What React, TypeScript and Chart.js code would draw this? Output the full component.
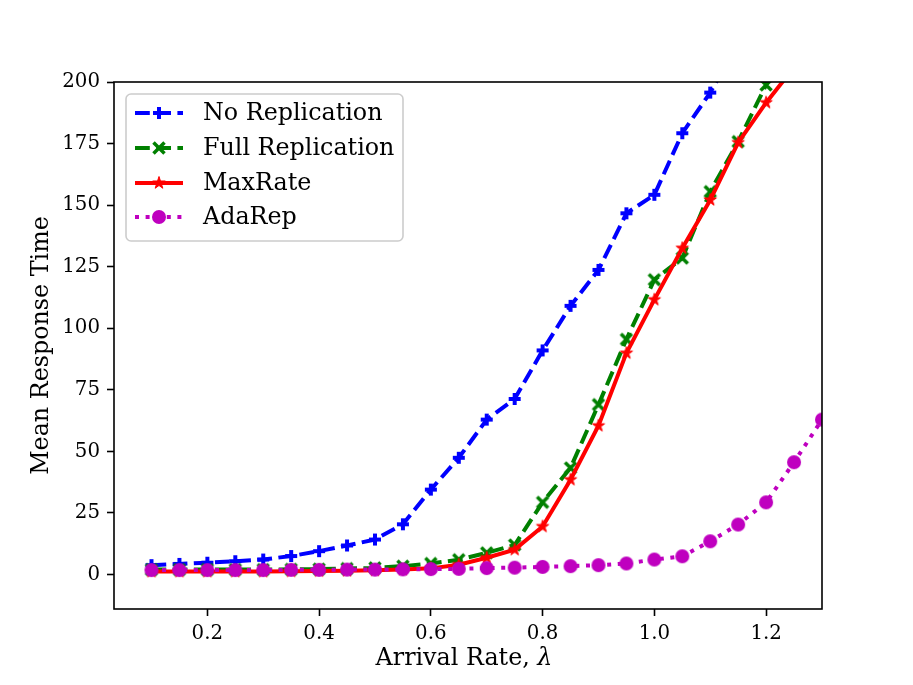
import { useEffect, useRef } from 'react';
import { Chart, registerables } from 'chart.js';

Chart.register(...registerables);

const arrivalRates = [
  0.1, 0.15, 0.2, 0.25, 0.3, 0.35, 0.4, 0.45, 0.5, 0.55, 0.6, 0.65, 0.7,
  0.75, 0.8, 0.85, 0.9, 0.95, 1.0, 1.05, 1.1, 1.15, 1.2, 1.25, 1.3,
];
const noReplication = [
  3.8, 4.3, 4.8, 5.4, 6.1, 7.5, 9.5, 11.8, 14.2, 20.4, 34.5, 47.4, 62.9,
  71.3, 91, 109.1, 123.7, 146.7, 154.2, 179.2, 195.7, 216, 236, 256, 278,
];
const fullReplication = [
  2, 2, 2, 2, 2, 2.1, 2.2, 2.4, 2.7, 3.4, 4.5, 6, 8.8,
  12, 29.3, 43.3, 69, 95.5, 119.7, 128.5, 155.5, 175.8, 198.8, 222, 245,
];
const maxRate = [
  1.2, 1.2, 1.2, 1.2, 1.2, 1.3, 1.4, 1.5, 1.7, 2.0, 2.5, 4, 6.8,
  10.1, 19.5, 38.5, 60.4, 89.9, 111.6, 132.5, 152.1, 175.4, 191.6, 206, 222,
];
const adaRep = [
  1.8, 1.8, 1.8, 1.8, 1.8, 1.9, 1.9, 2.0, 2.0, 2.1, 2.2, 2.3, 2.6,
  2.8, 3.1, 3.4, 3.8, 4.5, 6.1, 7.4, 13.5, 20.3, 29.3, 45.6, 62.9,
];
const seriesNames = ['No Replication', 'Full Replication', 'MaxRate', 'AdaRep'];
const xTicks = [0.2, 0.4, 0.6, 0.8, 1.0, 1.2];
const yTicks = [0, 25, 50, 75, 100, 125, 150, 175, 200];
const xTitle = 'Arrival Rate, ';
const xTitleSymbol = 'λ';

const SERIF = "'DejaVu Serif', serif";

function makeMarker(kind: string, color: string): HTMLCanvasElement {
  const size = 18;
  const c = document.createElement('canvas');
  c.width = size;
  c.height = size;
  const g = c.getContext('2d')!;
  const m = size / 2;
  g.fillStyle = color;
  g.strokeStyle = color;
  if (kind === 'plus') {
    g.fillRect(m - 6, m - 2, 12, 4);
    g.fillRect(m - 2, m - 6, 4, 12);
  } else if (kind === 'x') {
    g.lineWidth = 3.5;
    g.beginPath();
    g.moveTo(m - 5.5, m - 5.5);
    g.lineTo(m + 5.5, m + 5.5);
    g.moveTo(m + 5.5, m - 5.5);
    g.lineTo(m - 5.5, m + 5.5);
    g.stroke();
  } else if (kind === 'star') {
    const R = 6.5;
    const r = R * 0.382;
    g.beginPath();
    for (let i = 0; i < 10; i++) {
      const ang = -Math.PI / 2 + (i * Math.PI) / 5;
      const rad = i % 2 ? r : R;
      g.lineTo(m + rad * Math.cos(ang), m + rad * Math.sin(ang));
    }
    g.closePath();
    g.fill();
    g.lineWidth = 1;
    g.stroke();
  } else {
    g.beginPath();
    g.arc(m, m, 7, 0, Math.PI * 2);
    g.fill();
  }
  return c;
}

export default function App() {
  const canvasRef = useRef<HTMLCanvasElement | null>(null);
  const chartRef = useRef<Chart<'line'> | null>(null);

  useEffect(() => {
    document.body.style.margin = '0';
    if (!canvasRef.current) return;
    const ctx = canvasRef.current.getContext('2d');
    if (!ctx) return;

    const colors = ['#0000ff', '#008000', '#ff0000', '#bf00bf'];
    const dashes = [[14.8, 6.4], [14.8, 6.4], [], [4, 6.6]];
    const markers = [
      makeMarker('plus', colors[0]),
      makeMarker('x', colors[1]),
      makeMarker('star', colors[2]),
      makeMarker('circle', colors[3]),
    ];
    const values = [noReplication, fullReplication, maxRate, adaRep];

    const frameAndLegend = {
      id: 'frameAndLegend',
      afterDraw(chart: Chart) {
        const c = chart.ctx;
        const a = chart.chartArea;
        c.save();
        c.strokeStyle = '#000';
        c.lineWidth = 1.6;
        c.strokeRect(a.left, a.top, a.right - a.left, a.bottom - a.top);

        // x axis title, with an italic lambda like mathtext
        c.fillStyle = '#000';
        c.textBaseline = 'middle';
        c.textAlign = 'left';
        c.font = `23.8px ${SERIF}`;
        const w1 = c.measureText(xTitle).width;
        c.font = `italic 23.8px ${SERIF}`;
        const w2 = c.measureText(xTitleSymbol).width;
        const x0 = (a.left + a.right) / 2 - 4 - (w1 + w2) / 2;
        c.font = `23.8px ${SERIF}`;
        c.fillText(xTitle, x0, 659);
        c.font = `italic 23.8px ${SERIF}`;
        c.fillText(xTitleSymbol, x0 + w1, 659);

        // legend box
        c.beginPath();
        c.roundRect(126, 94, 277, 147, 5);
        c.fillStyle = 'rgba(255,255,255,0.8)';
        c.fill();
        c.strokeStyle = '#cccccc';
        c.lineWidth = 1.6;
        c.stroke();

        const rows = [113, 148, 183, 217];
        c.font = `23.8px ${SERIF}`;
        seriesNames.forEach((name, i) => {
          const y = rows[i];
          c.beginPath();
          c.setLineDash(dashes[i]);
          c.lineDashOffset = 0;
          c.lineCap = 'butt';
          c.strokeStyle = colors[i];
          c.lineWidth = 4;
          c.moveTo(135, y);
          c.lineTo(183, y);
          c.stroke();
          c.setLineDash([]);
          const mk = markers[i];
          c.drawImage(mk, 159 - mk.width / 2, y - mk.height / 2);
          c.fillStyle = '#000';
          c.fillText(name, 203, y + 1);
        });
        c.restore();
      },
    };

    chartRef.current = new Chart(ctx, {
      type: 'line',
      data: {
        datasets: seriesNames.map((name, i) => ({
          label: name,
          data: arrivalRates.map((x, j) => ({ x, y: values[i][j] })),
          borderColor: colors[i],
          backgroundColor: colors[i],
          borderWidth: 4,
          borderDash: dashes[i],
          borderCapStyle: 'butt' as const,
          pointStyle: markers[i],
          pointRadius: 7,
          pointHoverRadius: 7,
          tension: 0,
          fill: false,
          clip: 0,
          order: 3 - i,
        })),
      },
      options: {
        animation: false,
        responsive: false,
        events: [],
        layout: { padding: { left: 0, right: 91, top: 82, bottom: 0 } },
        plugins: {
          legend: { display: false },
          tooltip: { enabled: false },
        },
        scales: {
          x: {
            type: 'linear',
            min: 0.033,
            max: 1.3,
            afterBuildTicks: (s: any) => {
              s.ticks = xTicks.map((v) => ({ value: v }));
            },
            afterFit: (s: any) => {
              s.height = 76;
            },
            border: { display: false },
            grid: {
              drawOnChartArea: false,
              tickLength: 7,
              tickWidth: 1.6,
              tickColor: '#000',
            },
            ticks: {
              autoSkip: false,
              maxRotation: 0,
              color: '#000',
              padding: 6,
              font: { family: SERIF, size: 19.8 },
              callback: (v: any) => Number(v).toFixed(1),
            },
          },
          y: {
            type: 'linear',
            min: -14,
            max: 200,
            afterBuildTicks: (s: any) => {
              s.ticks = yTicks.map((v) => ({ value: v }));
            },
            afterFit: (s: any) => {
              s.width = 114;
            },
            border: { display: false },
            grid: {
              drawOnChartArea: false,
              tickLength: 7,
              tickWidth: 1.6,
              tickColor: '#000',
            },
            ticks: {
              autoSkip: false,
              color: '#000',
              padding: 7,
              font: { family: SERIF, size: 19.8 },
              callback: (v: any) => String(v),
            },
            title: {
              display: true,
              text: 'Mean Response Time',
              color: '#000',
              font: { family: SERIF, size: 23.8 },
              padding: { top: 28, bottom: 0 },
            },
          },
        },
      },
      plugins: [frameAndLegend],
    });

    return () => {
      if (chartRef.current) {
        chartRef.current.destroy();
        chartRef.current = null;
      }
    };
  }, []);

  return (
    <div style={{ width: 913, height: 685 }}>
      <canvas ref={canvasRef} width={913} height={685} style={{ display: 'block' }} />
    </div>
  );
}
